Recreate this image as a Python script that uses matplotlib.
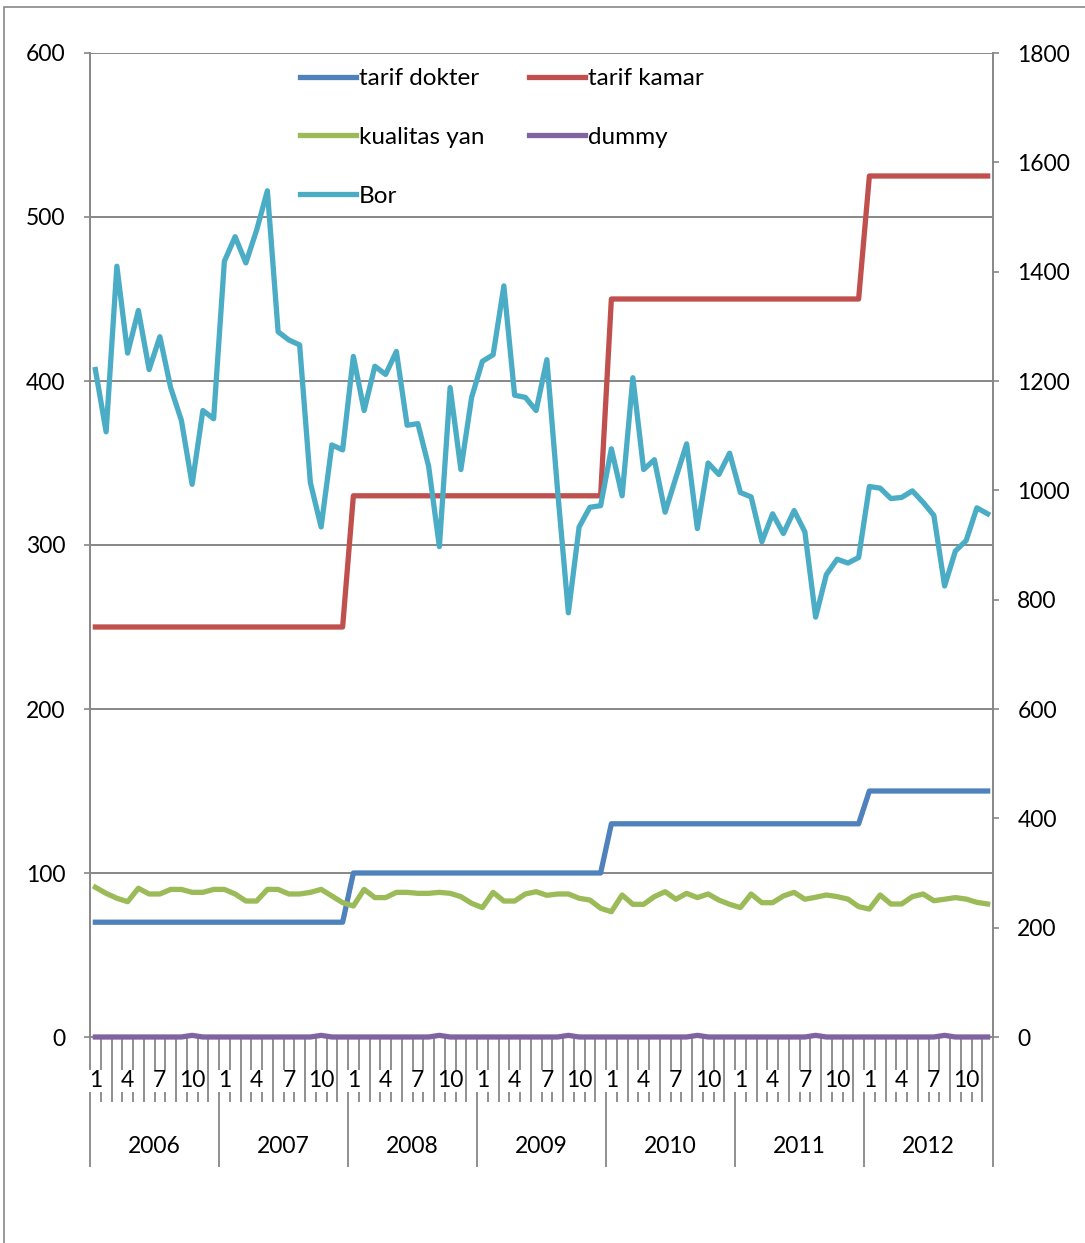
import numpy as np
import matplotlib
matplotlib.use("Agg")
import matplotlib.pyplot as plt
from matplotlib.patches import Rectangle

plt.rcParams['font.family'] = ['Lato', 'DejaVu Sans']

years = ['2006', '2007', '2008', '2009', '2010', '2011', '2012']
month_labels = ['1', '', '', '4', '', '', '7', '', '', '10', '', '']

tarif_dokter = [70] * 24 + [100] * 24 + [130] * 24 + [150] * 12
tarif_kamar = [250] * 24 + [330] * 24 + [450] * 24 + [525] * 12

kualitas_yan = [91.3, 87.6, 84.6, 82.5, 90.7, 87.2, 87.2, 90.0, 90.0, 88.2, 88.2, 90.0,
                90.0, 87.2, 82.9, 82.9, 90.0, 90.0, 87.2, 87.2, 88.2, 90.0, 86.0, 81.9,
                79.9, 90.0, 85.0, 85.0, 88.2, 88.2, 87.6, 87.6, 88.2, 87.6, 85.6, 81.5,
                78.9, 88.2, 82.9, 82.9, 87.2, 88.6, 86.4, 87.2, 87.2, 84.6, 83.5, 78.5,
                76.4, 86.6, 80.9, 80.9, 85.6, 88.6, 84.0, 87.6, 85.0, 87.2, 83.5, 80.9,
                78.9, 87.2, 81.9, 81.9, 86.0, 88.2, 84.0, 85.2, 86.6, 85.6, 84.1, 79.5,
                78.0, 86.6, 81.1, 81.1, 85.6, 87.2, 83.1, 84.0, 85.0, 84.1, 82.1, 81.1]

# 1 in the Lebaran month of each year
dummy = [0] * 84
for i in [9, 21, 32, 44, 56, 67, 79]:
    dummy[i] = 1

# secondary axis
bor = [1221, 1107, 1410, 1251, 1329, 1221, 1281, 1188, 1128, 1011, 1146, 1131,
       1419, 1464, 1416, 1476, 1548, 1290, 1275, 1266, 1014, 933, 1083, 1074,
       1245, 1146, 1227, 1212, 1254, 1119, 1122, 1044, 897, 1188, 1038, 1170,
       1236, 1248, 1374, 1174, 1170, 1146, 1239, 999, 776, 933, 969, 972,
       1076, 990, 1206, 1038, 1056, 960, 1023, 1085, 930, 1050, 1029, 1068,
       996, 988, 906, 957, 921, 963, 924, 768, 846, 874, 867, 877,
       1007, 1004, 985, 987, 999, 978, 954, 825, 889, 908, 968, 957]

x = np.arange(len(tarif_dokter)) + 0.5
grey = '#878787'
fs = 16.5
lw = 3.8

fig = plt.figure(figsize=(10.85, 12.43), dpi=100)
ax = fig.add_axes([90 / 1085, 1 - 1037 / 1243, 903 / 1085, 984 / 1243])
ax2 = ax.twinx()

l1, = ax.plot(x, tarif_dokter, color='#4F81BD', lw=lw, label='tarif dokter', zorder=3)
l2, = ax.plot(x, tarif_kamar, color='#C0504D', lw=lw, label='tarif kamar', zorder=3)
l3, = ax.plot(x, kualitas_yan, color='#9BBB59', lw=lw, label='kualitas yan', zorder=3)
l4, = ax.plot(x, dummy, color='#8064A2', lw=lw, label='dummy', zorder=3, clip_on=False)
l5, = ax2.plot(x, bor, color='#4BACC6', lw=lw, label='Bor', zorder=3)

ax.set_xlim(0, 84)
ax.set_ylim(0, 600)
ax2.set_ylim(0, 1800)
ax.set_yticks(range(0, 601, 100))
ax2.set_yticks(range(0, 1801, 200))
ax.grid(axis='y', color=grey, lw=1.4)
ax.set_axisbelow(True)

for a in (ax, ax2):
    a.spines['top'].set_visible(False)
    for s in a.spines.values():
        s.set_color(grey)
        s.set_linewidth(1.4)
ax.spines['right'].set_visible(False)
ax2.spines['left'].set_visible(False)
ax2.spines['bottom'].set_visible(False)

ax.tick_params(axis='y', length=4.5, width=1.2, color=grey, pad=13, labelsize=fs)
ax2.tick_params(axis='y', length=4.5, width=1.2, color=grey, pad=13, labelsize=fs)

# category axis: month dividers and year dividers
ax.set_xticks(np.arange(0, 85, 12))
ax.set_xticks(np.arange(0, 85, 1), minor=True)
ax.tick_params(axis='x', which='major', length=93.6, width=1.3, color=grey, labelbottom=False)
ax.tick_params(axis='x', which='minor', length=46.8, width=1.3, color=grey)

trans = ax.get_xaxis_transform()
for yi, yr in enumerate(years):
    for mi, ml in enumerate(month_labels):
        if ml:
            ax.text(yi * 12 + mi + 0.5, -0.0445, ml, transform=trans, ha='center', va='center',
                    fontsize=fs, clip_on=False,
                    bbox=dict(facecolor='white', edgecolor='none', pad=0.5))
    ax.text(yi * 12 + 6, -0.1115, yr, transform=trans, ha='center', va='center', fontsize=fs)

handles = [l1, l3, l5, l2, l4]
leg = ax2.legend(handles=handles, labels=[h.get_label() for h in handles], ncol=2,
                 loc='upper left', bbox_to_anchor=(300 / 1085, 1 - 68 / 1243),
                 bbox_transform=fig.transFigure, frameon=False, fontsize=17.5,
                 handlelength=2.3, handletextpad=0.12, columnspacing=1.85,
                 labelspacing=1.56, borderpad=0, borderaxespad=0)

# chart area border
fig.patches.append(Rectangle((4 / 1085, -0.1), 1.2, 1.1 - 7 / 1243, transform=fig.transFigure,
                             fill=False, edgecolor=grey, lw=1.2))

fig.savefig('out.png', dpi=100)
